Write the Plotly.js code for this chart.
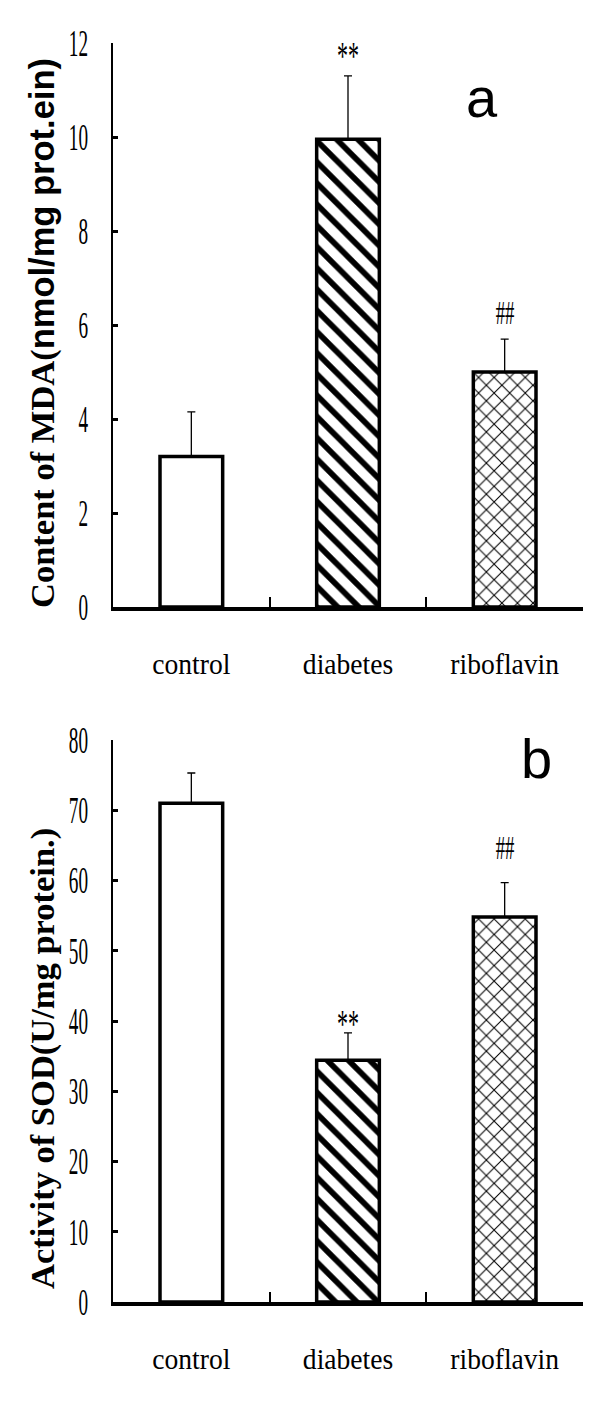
<!DOCTYPE html>
<html>
<head>
<meta charset="utf-8">
<script src="https://cdn.plot.ly/plotly-3.0.1.min.js"></script>
<style>
  html, body { margin: 0; padding: 0; background: #fff; }
  #plot { width: 612px; height: 1402px; }
</style>
</head>
<body>
<div id="plot"></div>
<script>
// ---- data ----
const categories = ["control", "diabetes", "riboflavin"];
const mdaValues = [3.2, 9.95, 5.0];
const mdaErrors = [0.95, 1.35, 0.7];
const mdaMarks = ["", "**", "##"];
const sodValues = [71.0, 34.4, 54.8];
const sodErrors = [4.3, 3.9, 4.9];
const sodMarks = ["", "**", "##"];
const mdaTicks = [0, 2, 4, 6, 8, 10, 12];
const sodTicks = [0, 10, 20, 30, 40, 50, 60, 70, 80];
const panelLabels = ["a", "b"];
const mdaTitle = '<b>Content of MDA(</b><span style="font-family:\'Liberation Sans\', Arial, sans-serif"><b>nmol/mg prot.ein)</b></span>';
const sodTitle = '<b>Activity of SOD(U/mg protein.)</b>';

// ---- styles ----
const serif = "'Liberation Serif', 'Times New Roman', serif";
const sans = "'Liberation Sans', Arial, sans-serif";
const pattern = {
  shape: ["", "\\", "x"],
  size: [8, 15, 11],
  solidity: [0.2, 0.38, 0.18],
  fgcolor: "#000",
  bgcolor: "#fff",
  fillmode: "replace"
};

function barTrace(vals, errs, xa, ya) {
  return {
    type: "bar",
    x: categories,
    y: vals,
    xaxis: xa, yaxis: ya,
    width: 0.4,
    marker: { color: "#fff", line: { color: "#000", width: 3.5 }, pattern: pattern },
    error_y: {
      type: "data", array: errs, arrayminus: errs.map(() => 0), symmetric: false,
      color: "#000", thickness: 1.3, width: 4
    },
    hoverinfo: "skip",
    showlegend: false
  };
}

const data = [
  barTrace(mdaValues, mdaErrors, "x", "y"),
  barTrace(sodValues, sodErrors, "x2", "y2")
];

function xAxis(anchor) {
  return {
    domain: [113 / 612, 583 / 612],
    anchor: anchor,
    type: "category",
    range: [-0.5, 2.5],
    showline: true, linecolor: "#000", linewidth: 4,
    ticks: "inside", tickson: "boundaries", ticklen: 10, tickwidth: 2, tickcolor: "#000",
    showgrid: false, zeroline: false,
    tickfont: { family: serif, size: 29, color: "#000" },
    ticklabelstandoff: 28,
    fixedrange: true
  };
}
function yAxis(anchor, domain, range, ticks) {
  return {
    domain: domain,
    anchor: anchor,
    range: range,
    tickmode: "array", tickvals: ticks, ticktext: ticks.map(String),
    showline: true, linecolor: "#000", linewidth: 2.5,
    ticks: "inside", ticklen: 5, tickwidth: 3, tickcolor: "#000",
    showgrid: false, zeroline: false,
    tickfont: { family: serif, size: 37, color: "#000" },
    ticklabelstandoff: 15,
    fixedrange: true
  };
}

const markFont = m => ({ family: serif, size: m === "**" ? 40 : 34, color: "#000" });
const annotations = [];
categories.forEach((c, i) => {
  if (mdaMarks[i]) annotations.push({
    x: c, y: mdaValues[i] + mdaErrors[i], xref: "x", yref: "y",
    text: mdaMarks[i], showarrow: false, yshift: mdaMarks[i] === "**" ? 20 : 27, yanchor: "middle",
    font: markFont(mdaMarks[i])
  });
  if (sodMarks[i]) annotations.push({
    x: c, y: sodValues[i] + sodErrors[i], xref: "x2", yref: "y2",
    text: sodMarks[i], showarrow: false, yshift: sodMarks[i] === "**" ? 9 : 35, yanchor: "middle",
    font: markFont(sodMarks[i])
  });
});
annotations.push(
  { x: 482 / 612, y: 1 - 97 / 1402, xref: "paper", yref: "paper", text: panelLabels[0], showarrow: false,
    xanchor: "center", yanchor: "middle", font: { family: sans, size: 56, color: "#000" } },
  { x: 536 / 612, y: 1 - 758 / 1402, xref: "paper", yref: "paper", text: panelLabels[1], showarrow: false,
    xanchor: "center", yanchor: "middle", font: { family: sans, size: 56, color: "#000" } },
  { x: 42 / 612, y: 1 - 333 / 1402, xref: "paper", yref: "paper", text: mdaTitle, showarrow: false,
    textangle: -90, xanchor: "center", yanchor: "middle", font: { family: serif, size: 34.5, color: "#000" } },
  { x: 42 / 612, y: 1 - 1059 / 1402, xref: "paper", yref: "paper", text: sodTitle, showarrow: false,
    textangle: -90, xanchor: "center", yanchor: "middle", font: { family: serif, size: 34.5, color: "#000" } }
);

const layout = {
  width: 612, height: 1402,
  margin: { l: 0, r: 0, t: 0, b: 0 },
  paper_bgcolor: "#fff", plot_bgcolor: "#fff",
  bargap: 0.6,
  xaxis: xAxis("y"),
  yaxis: yAxis("x", [1 - 607 / 1402, 1 - 43 / 1402], [0, 12], mdaTicks),
  xaxis2: xAxis("y2"),
  yaxis2: yAxis("x2", [1 - 1302 / 1402, 1 - 740 / 1402], [0, 80], sodTicks),
  annotations: annotations,
  showlegend: false
};

function squeeze(sel, factor) {
  document.querySelectorAll(sel).forEach(t => {
    const w = t.getComputedTextLength();
    if (w > 0) {
      t.setAttribute("textLength", (w * factor).toFixed(2));
      t.setAttribute("lengthAdjust", "spacingAndGlyphs");
    }
  });
}

Plotly.newPlot("plot", data, layout, { staticPlot: true, displayModeBar: false }).then(() => {
  squeeze(".ytick text, .y2tick text", 0.52);
  squeeze(".xtick text, .x2tick text", 0.95);
  document.querySelectorAll(".annotation-text").forEach(t => {
    const s = t.textContent;
    if (s === "**" || s === "##") {
      const w = t.getComputedTextLength();
      t.setAttribute("textLength", (w * (s === "**" ? 0.55 : 0.55)).toFixed(2));
      t.setAttribute("lengthAdjust", "spacingAndGlyphs");
    }
  });
});
</script>
</body>
</html>
